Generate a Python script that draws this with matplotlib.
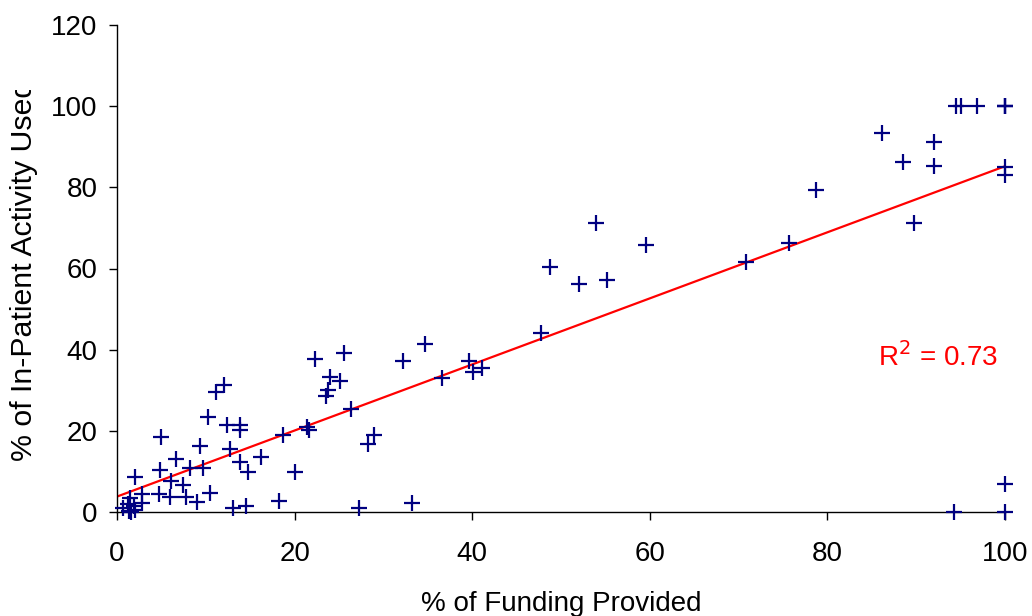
import numpy as np
import matplotlib
matplotlib.use('Agg')
import matplotlib.pyplot as plt
from matplotlib.transforms import Bbox, TransformedBbox

# Дані
funding = [0.7, 1.4, 1.9, 1.2, 1.6, 2.0, 1.5, 2.0, 2.8, 2.8,
           4.75, 4.8, 5.0, 6.0, 6.1, 6.7, 7.4, 7.8, 8.2, 9.0,
           9.4, 9.7, 10.2, 10.5, 11.1, 12.0, 12.4, 12.7, 13.1, 13.8,
           13.8, 13.8, 14.5, 14.7, 16.2, 18.2, 18.7, 20.1, 21.4, 21.6,
           22.3, 23.5, 23.8, 24.0, 25.1, 25.6, 26.3, 27.3, 28.3, 28.9,
           32.2, 33.2, 34.7, 36.6, 39.6, 40.1, 41.1, 47.7, 48.8, 52.0,
           53.9, 55.2, 59.6, 70.8, 75.7, 78.7, 86.1, 88.5, 89.8, 92.0,
           92.0, 94.3, 94.5, 95.1, 96.8, 100, 100, 100, 100, 100,
           100, 100]
activity = [1.0, 0.3, 1.5, 2.0, 0.0, 0.5, 3.4, 8.7, 4.4, 2.2,
            4.4, 10.3, 18.4, 3.6, 7.6, 13.0, 6.6, 3.6, 10.8, 2.5,
            16.3, 10.8, 23.3, 4.8, 29.6, 31.3, 21.4, 15.5, 1.0, 21.4,
            20.3, 12.4, 1.5, 9.8, 13.5, 2.8, 19.0, 9.8, 20.9, 20.2,
            37.7, 28.7, 30.0, 33.3, 32.3, 39.3, 25.4, 0.9, 16.7, 19.0,
            37.2, 2.1, 41.5, 32.9, 37.2, 34.6, 35.5, 44.0, 60.4, 56.2,
            71.1, 57.1, 65.8, 61.5, 66.4, 79.3, 93.3, 86.3, 71.1, 91.2,
            85.2, 0.0, 100, 100, 100, 100, 100, 100, 85, 83,
            6.9, 0.0]

# Лінія тренду і R²
trend_intercept = 3.8
trend_slope = 0.814
r_squared = 0.73

plt.rcParams['font.family'] = ['Liberation Sans', 'DejaVu Sans']

fig = plt.figure(figsize=(10.32, 6.16), dpi=100)
ax = fig.add_axes([117 / 1032, 104 / 616, 888 / 1032, 487 / 616])

# Точки не обрізаємо по краю осей (як у Excel)
ax.plot(funding, activity, linestyle='none', marker='+', color='#000080',
        markersize=11, markeredgewidth=1.6, zorder=3, clip_on=False)

x_line = np.array([0, 100])
ax.plot(x_line, trend_intercept + trend_slope * x_line, color='#ff0000', lw=1.6, zorder=2)

ax.text(85.7, 36, f'R$^2$ = {r_squared:.2f}', color='#ff0000', fontsize=20)

ax.set_xlim(0, 100)
ax.set_ylim(0, 120)
ax.set_xticks(range(0, 101, 20))
ax.set_yticks(range(0, 121, 20))
for s in ['top', 'right']:
    ax.spines[s].set_visible(False)
for s in ['left', 'bottom']:
    ax.spines[s].set_color('#000000')
    ax.spines[s].set_linewidth(1.0)
ax.tick_params(axis='both', direction='out', length=6, width=1, labelsize=20)
ax.tick_params(axis='x', pad=15)
ax.tick_params(axis='y', pad=8)

ax.set_xlabel('% of Funding Provided', fontsize=20, labelpad=17)
lbl = ax.set_ylabel('% of In-Patient Activity Used', fontsize=21.8)
ax.yaxis.set_label_coords((38 - 117) / 888, (616 - 271 - 104) / 487)

# Підпис осі Y обрізаний зверху, як у оригіналі
clip = TransformedBbox(Bbox([[0, 0], [1, (616 - 90) / 616]]), fig.transFigure)
lbl.set_clip_box(clip)
lbl.set_clip_on(True)

fig.savefig('out.png', dpi=100)
